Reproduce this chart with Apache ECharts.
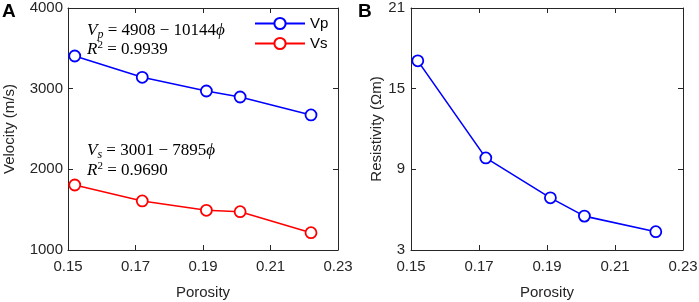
<!DOCTYPE html>
<html>
<head>
<meta charset="utf-8">
<script src="https://cdn.jsdelivr.net/npm/echarts@6/dist/echarts.min.js"></script>
<style>
  html, body { margin: 0; padding: 0; background: #fff; }
  #chart { width: 699px; height: 302px; }
</style>
</head>
<body>
<div id="chart"></div>
<script>
  // values
  const porosity = [0.152, 0.172, 0.191, 0.201, 0.222];
  const vp = [3405, 3141, 2971, 2897, 2674];
  const vs = [1806, 1608, 1492, 1475, 1215];
  const resistivity = [17.07, 9.85, 6.88, 5.52, 4.36];

  const porosityTicks = [0.15, 0.17, 0.19, 0.21, 0.23];
  const velocityTicks = [1000, 2000, 3000, 4000];
  const resistivityTicks = [3, 9, 15, 21];

  const axisColor = '#262626';
  const sansFont = 'Liberation Sans, Arial, sans-serif';
  const serifFont = 'Liberation Serif, DejaVu Serif, serif';

  const pairs = (xs, ys) => xs.map((x, i) => [x, ys[i]]);

  // bottom / left axis with labels
  const mainAxis = (extra, ticks, margin) => Object.assign({
    type: 'value',
    splitLine: { show: false },
    axisLine: { show: true, onZero: false, lineStyle: { color: axisColor, width: 1 } },
    axisTick: { show: true, inside: true, length: 5, customValues: ticks, lineStyle: { color: axisColor } },
    axisLabel: {
      show: true, customValues: ticks, margin: margin,
      color: axisColor, fontSize: 15, fontFamily: sansFont,
      formatter: (v) => String(v),
    },
    nameTextStyle: { color: axisColor, fontSize: 15, fontFamily: sansFont },
  }, extra);

  // top / right axis, only to close the box
  const boxAxis = (extra, ticks) => Object.assign({
    type: 'value',
    splitLine: { show: false },
    axisLine: { show: true, onZero: false, lineStyle: { color: axisColor, width: 1 } },
    axisTick: { show: true, inside: true, length: 5, customValues: ticks, lineStyle: { color: axisColor } },
    axisLabel: { show: false },
  }, extra);

  const richEq = {
    i: { fontFamily: serifFont, fontStyle: 'italic', fontSize: 17, lineHeight: 20, color: axisColor },
    n: { fontFamily: serifFont, fontSize: 17, lineHeight: 20, color: axisColor },
    sub: { fontFamily: serifFont, fontStyle: 'italic', fontSize: 12, lineHeight: 10, verticalAlign: 'bottom', color: axisColor },
    sup: { fontFamily: serifFont, fontSize: 11, lineHeight: 12, verticalAlign: 'top', color: axisColor },
  };

  const eqText = (left, top, text) => ({
    type: 'text',
    left: left,
    top: top,
    style: { text: text, rich: richEq },
  });

  const myChart = echarts.init(document.getElementById('chart'));
  myChart.setOption({
    animation: false,
    grid: [
      { left: 68, right: 361, top: 8, bottom: 52, outerBoundsMode: 'none' },
      { left: 411, right: 16, top: 8, bottom: 52, outerBoundsMode: 'none' },
    ],
    legend: {
      orient: 'vertical',
      left: 249,
      top: 11,
      itemWidth: 50,
      itemHeight: 14,
      itemGap: 5,
      data: ['Vp', 'Vs'],
      textStyle: { color: '#000', fontSize: 15, fontFamily: sansFont },
    },
    xAxis: [
      mainAxis({ gridIndex: 0, min: 0.15, max: 0.23, position: 'bottom',
        name: 'Porosity', nameLocation: 'middle', nameGap: 35 }, porosityTicks, 9),
      boxAxis({ gridIndex: 0, min: 0.15, max: 0.23, position: 'top' }, porosityTicks),
      mainAxis({ gridIndex: 1, min: 0.15, max: 0.23, position: 'bottom',
        name: 'Porosity', nameLocation: 'middle', nameGap: 35 }, porosityTicks, 9),
      boxAxis({ gridIndex: 1, min: 0.15, max: 0.23, position: 'top' }, porosityTicks),
    ],
    yAxis: [
      mainAxis({ gridIndex: 0, min: 1000, max: 4000, position: 'left',
        name: 'Velocity (m/s)', nameLocation: 'middle', nameGap: 51 }, velocityTicks, 5),
      boxAxis({ gridIndex: 0, min: 1000, max: 4000, position: 'right' }, velocityTicks),
      mainAxis({ gridIndex: 1, min: 3, max: 21, position: 'left',
        name: 'Resistivity (Ωm)', nameLocation: 'middle', nameGap: 24 }, resistivityTicks, 6),
      boxAxis({ gridIndex: 1, min: 3, max: 21, position: 'right' }, resistivityTicks),
    ],
    series: [
      {
        name: 'Vp', type: 'line', xAxisIndex: 0, yAxisIndex: 0,
        data: pairs(porosity, vp),
        symbol: 'circle', symbolSize: 11,
        lineStyle: { color: '#0000ff', width: 1.6 },
        itemStyle: { color: '#fff', borderColor: '#0000ff', borderWidth: 1.8 },
      },
      {
        name: 'Vs', type: 'line', xAxisIndex: 0, yAxisIndex: 0,
        data: pairs(porosity, vs),
        symbol: 'circle', symbolSize: 11,
        lineStyle: { color: '#ff0000', width: 1.6 },
        itemStyle: { color: '#fff', borderColor: '#ff0000', borderWidth: 1.8 },
      },
      {
        name: 'Resistivity', type: 'line', xAxisIndex: 2, yAxisIndex: 2,
        data: pairs(porosity, resistivity),
        symbol: 'circle', symbolSize: 11,
        lineStyle: { color: '#0000ff', width: 1.6 },
        itemStyle: { color: '#fff', borderColor: '#0000ff', borderWidth: 1.8 },
      },
    ],
    graphic: [
      { type: 'text', left: 2, top: 2,
        style: { text: 'A', fontSize: 19, fontWeight: 'bold', fontFamily: sansFont, fill: '#000' } },
      { type: 'text', left: 358, top: 2,
        style: { text: 'B', fontSize: 19, fontWeight: 'bold', fontFamily: sansFont, fill: '#000' } },
      eqText(87, 22, '{i|V}{sub|p}{n| = 4908 − 10144}{i|ϕ}'),
      eqText(87, 40, '{i|R}{sup|2}{n| = 0.9939}'),
      eqText(87, 142, '{i|V}{sub|s}{n| = 3001 − 7895}{i|ϕ}'),
      eqText(87, 161, '{i|R}{sup|2}{n| = 0.9690}'),
    ],
  });
</script>
</body>
</html>
